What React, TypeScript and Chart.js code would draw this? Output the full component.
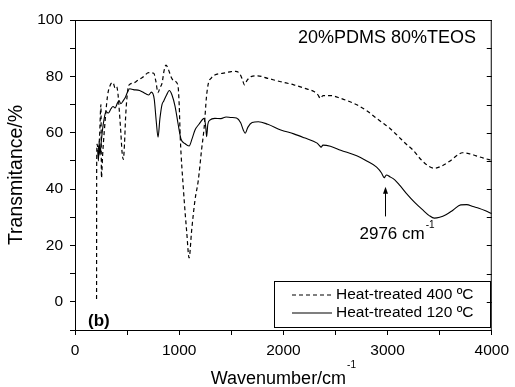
import React, { useEffect, useRef } from "react";
import { Chart, registerables } from "chart.js";

Chart.register(...registerables);

// ---- Data ----
const wavenumber400 = [
  207, 208, 212, 222, 235, 249, 254, 265, 280, 312, 340, 365, 385, 400, 412, 423, 440, 452, 464, 475,
  486, 500, 512, 530, 560, 600, 650, 708, 756, 775, 797, 815, 835, 855, 873, 898, 920, 946, 987, 1000,
  1010, 1041, 1073, 1095, 1120, 1152, 1183, 1215, 1240, 1262, 1280, 1310, 1342, 1400, 1450, 1500, 1540,
  1580, 1605, 1627, 1650, 1690, 1754, 1850, 1975, 2100, 2200, 2293, 2330, 2356, 2380, 2451, 2550, 2704,
  2800, 2895, 2960, 3021, 3100, 3180, 3243, 3320, 3400, 3449, 3520, 3600, 3680, 3718, 3780, 3850, 3920, 4000,
];
const transmittance400 = [
  1, 48, 56, 54, 58, 70, 44, 52, 60, 73, 77, 77.8, 75.8, 76.3, 74, 69, 60, 53, 50.5, 56,
  65.7, 73, 76.3, 77.3, 77.6, 78.5, 79.7, 81.3, 81.1, 78.5, 74.2, 76, 77.5, 82, 84, 82.3, 80, 78.5, 77, 70,
  58.6, 39.7, 24.4, 15.6, 25.5, 36.2, 43, 54, 62, 72.8, 77.5, 79.5, 80.5, 81, 81.3, 81.7, 81.8,
  81, 79, 77, 78.5, 79.9, 80.2, 79.3, 78.1, 77, 75.8, 74.6, 73.5, 72.2, 73.2, 73.2, 72.2, 69.9,
  67.8, 65.1, 63.3, 61.6, 58.8, 55.9, 53.9, 50.5, 48, 47.4, 48.2, 50, 52.3, 52.9, 52.6, 51.8, 51, 50.2,
];

const wavenumber120 = [
  217, 225, 232, 240, 250, 264, 280, 297, 320, 345, 365, 385, 407, 423, 440, 465, 486, 505, 524, 560,
  620, 680, 708, 733, 760, 780, 797, 815, 835, 851, 880, 905, 930, 961, 990, 1018, 1060, 1095, 1125, 1152,
  1190, 1240, 1255, 1263, 1275, 1294, 1342, 1400, 1450, 1500, 1550, 1590, 1615, 1633, 1660, 1700, 1760,
  1850, 1975, 2100, 2200, 2324, 2345, 2362, 2380, 2451, 2550, 2704, 2800, 2895, 2942, 2960, 2968, 2976,
  2990, 3021, 3069, 3120, 3180, 3260, 3338, 3400, 3449, 3500, 3560, 3630, 3702, 3760, 3820, 3876, 3940, 4000,
];
const transmittance120 = [
  54, 50, 57, 52, 56, 61, 65, 67.5, 67, 68.5, 69.3, 68.8, 70.5, 71.4, 70.3, 71.5, 72.8, 74.5, 75.6, 75.3,
  75, 73.8, 73.4, 74.4, 72, 64, 58.4, 65, 70, 71.2, 73.5, 75, 73.5, 69.3, 63, 57.7, 56, 55.3, 58, 61,
  63, 65.1, 62, 58.6, 63, 64.5, 65.1, 65, 65.6, 65.4, 65.2, 63.5, 61, 59.8, 62, 63.6, 63.9,
  63, 61, 59.6, 58.2, 56.3, 55.5, 54.9, 55.6, 55.2, 53.8, 51.8, 50, 47.8, 45.7, 44.4, 44, 44.4,
  45, 44.4, 43.3, 41.2, 38.5, 35.3, 32.6, 30.6, 29.7, 30, 30.9, 32.6, 34.4, 34.5, 33.8, 33.2, 32.3, 31.3,
];

const seriesLabels = ["Heat-treated 400 ºC", "Heat-treated 120 ºC"];
const sampleLabel = "20%PDMS 80%TEOS";
const panelLabel = "(b)";
const peakWavenumber = 2976;
const peakArrowFrom = 30.3;
const peakArrowTo = 40.8;
const peakTextLevel = 22.2;
const peakLabel = "2976 cm";
const unitSup = "-1";
const xTitle = "Wavenumber/cm";
const yTitle = "Transmitance/%";
const xMajorTicks = [0, 1000, 2000, 3000, 4000];
const yMajorTicks = [0, 20, 40, 60, 80, 100];

const FONT = "'Liberation Sans', Arial, Helvetica, sans-serif";

const overlayPlugin = {
  id: "overlay",
  afterDraw(chart: any) {
    const { ctx, chartArea: a, scales } = chart;
    const xs = scales.x;
    const ys = scales.y;
    ctx.save();
    ctx.strokeStyle = "#000";
    ctx.fillStyle = "#000";
    ctx.lineWidth = 1;
    ctx.setLineDash([]);

    // top + right frame with inward ticks on right
    ctx.beginPath();
    ctx.moveTo(a.left, a.top + 0.5);
    ctx.lineTo(a.right, a.top + 0.5);
    ctx.moveTo(a.right - 0.5, a.top);
    ctx.lineTo(a.right - 0.5, a.bottom);
    for (let v = -10; v <= 100; v += 10) {
      const py = Math.round(ys.getPixelForValue(v)) + 0.5;
      ctx.moveTo(a.right, py);
      ctx.lineTo(a.right - 5, py);
    }
    ctx.stroke();

    // sample label
    ctx.font = `18px ${FONT}`;
    ctx.textBaseline = "alphabetic";
    ctx.textAlign = "left";
    ctx.fillText(sampleLabel, 298, 43);

    // panel label
    ctx.font = `bold 17px ${FONT}`;
    ctx.textBaseline = "middle";
    ctx.fillText(panelLabel, 88, 321);

    // legend box
    const lx1 = 274.5, ly1 = 281.5, lx2 = 490.5, ly2 = 327.5;
    ctx.strokeRect(lx1, ly1, lx2 - lx1, ly2 - ly1);
    const rows = [295, 313];
    ctx.lineWidth = 1.1;
    ctx.beginPath();
    ctx.setLineDash([4, 3]);
    ctx.moveTo(292, rows[0]);
    ctx.lineTo(332, rows[0]);
    ctx.stroke();
    ctx.setLineDash([]);
    ctx.beginPath();
    ctx.moveTo(292, rows[1]);
    ctx.lineTo(332, rows[1]);
    ctx.stroke();
    ctx.font = `15.5px ${FONT}`;
    ctx.textBaseline = "middle";
    ctx.fillText(seriesLabels[0], 336, rows[0]);
    ctx.fillText(seriesLabels[1], 336, rows[1]);

    // annotation arrow
    const px = Math.round(xs.getPixelForValue(peakWavenumber)) + 0.5;
    const tipY = ys.getPixelForValue(peakArrowTo);
    const tailY = ys.getPixelForValue(peakArrowFrom);
    ctx.lineWidth = 1;
    ctx.beginPath();
    ctx.moveTo(px, tailY);
    ctx.lineTo(px, tipY + 5);
    ctx.stroke();
    ctx.beginPath();
    ctx.moveTo(px, tipY);
    ctx.lineTo(px - 2.5, tipY + 7);
    ctx.lineTo(px + 2.5, tipY + 7);
    ctx.closePath();
    ctx.fill();

    // annotation text
    ctx.textBaseline = "alphabetic";
    ctx.font = `17px ${FONT}`;
    const tx = px - 26;
    const ty = ys.getPixelForValue(peakTextLevel);
    ctx.fillText(peakLabel, tx, ty);
    const w1 = ctx.measureText(peakLabel).width;
    ctx.font = `10px ${FONT}`;
    ctx.fillText(unitSup, tx + w1 + 1, ty - 11);

    // x title with superscript
    ctx.font = `18px ${FONT}`;
    const mw = ctx.measureText(xTitle).width;
    ctx.font = `10px ${FONT}`;
    const sw = ctx.measureText(unitSup).width;
    const cx = (a.left + a.right) / 2;
    const startX = cx - (mw + sw + 1) / 2;
    ctx.font = `18px ${FONT}`;
    ctx.fillText(xTitle, startX, 384);
    ctx.font = `10px ${FONT}`;
    ctx.fillText(unitSup, startX + mw + 1, 368);

    ctx.restore();
  },
};

export default function App() {
  const canvasRef = useRef<HTMLCanvasElement | null>(null);

  useEffect(() => {
    const canvas = canvasRef.current;
    if (!canvas) return;
    const chart = new Chart(canvas, {
      type: "line",
      data: {
        datasets: [
          {
            label: seriesLabels[0],
            data: wavenumber400.map((x, i) => ({ x, y: transmittance400[i] })),
            borderColor: "#000",
            borderWidth: 1.2,
            borderDash: [4, 3],
            pointRadius: 0,
            fill: false,
            cubicInterpolationMode: "monotone",
          },
          {
            label: seriesLabels[1],
            data: wavenumber120.map((x, i) => ({ x, y: transmittance120[i] })),
            borderColor: "#000",
            borderWidth: 1.1,
            pointRadius: 0,
            fill: false,
            cubicInterpolationMode: "monotone",
          },
        ],
      },
      options: {
        animation: false,
        responsive: false,
        devicePixelRatio: 1,
        layout: { padding: { top: 20, right: 19, bottom: 0, left: 0 } },
        plugins: { legend: { display: false }, tooltip: { enabled: false } },
        scales: {
          x: {
            type: "linear",
            min: 0,
            max: 4000,
            afterFit: (s: any) => {
              s.height = 57;
            },
            border: { display: true, color: "#000", width: 1 },
            grid: { drawOnChartArea: false, drawTicks: true, tickLength: 5, color: "#000" },
            ticks: {
              stepSize: 500,
              autoSkip: false,
              maxRotation: 0,
              padding: 6,
              color: "#000",
              font: { family: FONT, size: 15.5 },
              callback: (v: any) => (xMajorTicks.includes(Number(v)) ? String(v) : ""),
            },
          },
          y: {
            type: "linear",
            min: -10,
            max: 100,
            afterFit: (s: any) => {
              s.width = 75;
            },
            border: { display: true, color: "#000", width: 1 },
            grid: { drawOnChartArea: false, drawTicks: true, tickLength: 5, color: "#000" },
            title: {
              display: true,
              text: yTitle,
              color: "#000",
              font: { family: FONT, size: 19.5 },
              padding: { top: 5, bottom: 0 },
            },
            ticks: {
              stepSize: 10,
              autoSkip: false,
              padding: 7,
              color: "#000",
              font: { family: FONT, size: 15.5 },
              callback: (v: any) => (yMajorTicks.includes(Number(v)) ? String(v) : ""),
            },
          },
        },
      },
      plugins: [overlayPlugin],
    });
    return () => chart.destroy();
  }, []);

  return (
    <div style={{ position: "absolute", left: 0, top: 0, width: 515, height: 387 }}>
      <canvas ref={canvasRef} width={515} height={387} style={{ display: "block", width: 515, height: 387 }} />
    </div>
  );
}
